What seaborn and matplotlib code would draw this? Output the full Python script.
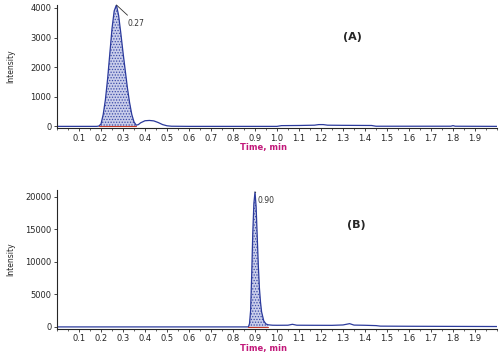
import numpy as np
import pandas as pd
import seaborn as sns
import matplotlib.pyplot as plt
from matplotlib.ticker import MultipleLocator

# Chromatogram A (time in min, intensity)
time_a = [0.00, 0.10, 0.18, 0.19, 0.20, 0.21, 0.22, 0.23, 0.24, 0.25, 0.26, 0.27, 0.28,
          0.29, 0.30, 0.31, 0.32, 0.33, 0.34, 0.35, 0.36, 0.37, 0.38, 0.40, 0.42, 0.44,
          0.46, 0.48, 0.50, 0.52, 0.60, 0.80, 1.00, 1.02, 1.10, 1.17, 1.19, 1.21, 1.23,
          1.30, 1.43, 1.45, 1.60, 1.79, 1.80, 1.81, 2.00]
int_a = [0, 0, 0, 10, 80, 400, 900, 1600, 2450, 3300, 3900, 4100, 3750,
         3150, 2500, 1900, 1300, 800, 400, 150, 40, 60, 120, 190, 200, 185,
         130, 60, 20, 5, 0, 0, 0, 25, 30, 40, 60, 60, 40,
         35, 30, 5, 5, 5, 25, 5, 0]

# Chromatogram B
time_b = [0.00, 0.50, 0.86, 0.87, 0.875, 0.88, 0.885, 0.89, 0.895, 0.90, 0.905, 0.91,
          0.915, 0.92, 0.925, 0.93, 0.94, 0.95, 0.96, 0.98, 1.00, 1.05, 1.07, 1.09,
          1.15, 1.25, 1.30, 1.33, 1.35, 1.40, 1.45, 1.47, 1.60, 1.80, 2.00]
int_b = [0, 0, 0, 0, 500, 2500, 8000, 14500, 19000, 20700, 18500, 14000,
         9500, 6000, 3800, 2300, 900, 450, 320, 260, 250, 260, 400, 260,
         250, 240, 300, 500, 280, 250, 200, 120, 100, 80, 60]

peak_a = (0.19, 0.36, 0.27)
peak_b = (0.87, 0.96, 0.90)
xticks = np.round(np.arange(0.1, 2.0, 0.1), 1)

line_c = "#2b3a9c"
fill_c = "#c9cdea"

sns.set_style("ticks")
plt.rcParams['font.family'] = ['DejaVu Sans']
plt.rcParams['hatch.color'] = "#3a4aa8"
plt.rcParams['hatch.linewidth'] = 0.6

fig = plt.figure(figsize=(5, 3.54), dpi=100)
ax1 = fig.add_axes([0.114, 0.638, 0.88, 0.348])
ax2 = fig.add_axes([0.114, 0.071, 0.88, 0.392])

panels = [
    (ax1, time_a, int_a, peak_a, (-60, 4100), [0, 1000, 2000, 3000, 4000],
     "(A)", (0.65, 0.74), (8, -13), -0.122),
    (ax2, time_b, int_b, peak_b, (-300, 21000), [0, 5000, 10000, 15000, 20000],
     "(B)", (0.66, 0.75), (2, -6), -0.108),
]

for ax, t, y, pk, ylim, yt, tag, tagpos, offs, lab_y in panels:
    df = pd.DataFrame({"time": t, "intensity": y})
    sns.lineplot(data=df, x="time", y="intensity", ax=ax, color=line_c, lw=0.9)
    m = (df["time"] >= pk[0]) & (df["time"] <= pk[1])
    ax.fill_between(df["time"][m], df["intensity"][m], 0, facecolor=fill_c,
                    hatch="......", edgecolor="#3a4aa8", linewidth=0)
    ax.plot([pk[0], pk[1]], [0, 0], color="#c0392b", lw=0.8)
    apex = df.loc[df["intensity"].idxmax()]
    ax.annotate(f"{pk[2]:.2f}", xy=(apex["time"], apex["intensity"]),
                xytext=offs, textcoords="offset points", fontsize=5.5, color="#333333",
                va="center", ha="left",
                arrowprops=dict(arrowstyle="-", color="#333333", lw=0.6, shrinkA=0, shrinkB=0))
    ax.set_xlim(0, 2.0)
    ax.set_ylim(*ylim)
    ax.set_xticks(xticks)
    ax.set_xticklabels([f"{v:.1f}" for v in xticks])
    ax.xaxis.set_minor_locator(MultipleLocator(0.05))
    ax.set_yticks(yt)
    ax.tick_params(labelsize=6, length=2, width=0.6, pad=2)
    ax.tick_params(which="minor", length=1.2, width=0.5)
    ax.set_xlabel("Time, min", fontsize=6, color="#c2187a", fontweight="bold")
    ax.xaxis.set_label_coords(0.47, lab_y)
    ax.set_ylabel("Intensity", fontsize=5.5)
    ax.yaxis.set_label_coords(-0.096, 0.5)
    ax.text(tagpos[0], tagpos[1], tag, transform=ax.transAxes, fontsize=8,
            fontweight="bold", va="center")
    sns.despine(ax=ax)
    for s in ["left", "bottom"]:
        ax.spines[s].set_linewidth(0.8)

fig.savefig("out.png", dpi=100)
